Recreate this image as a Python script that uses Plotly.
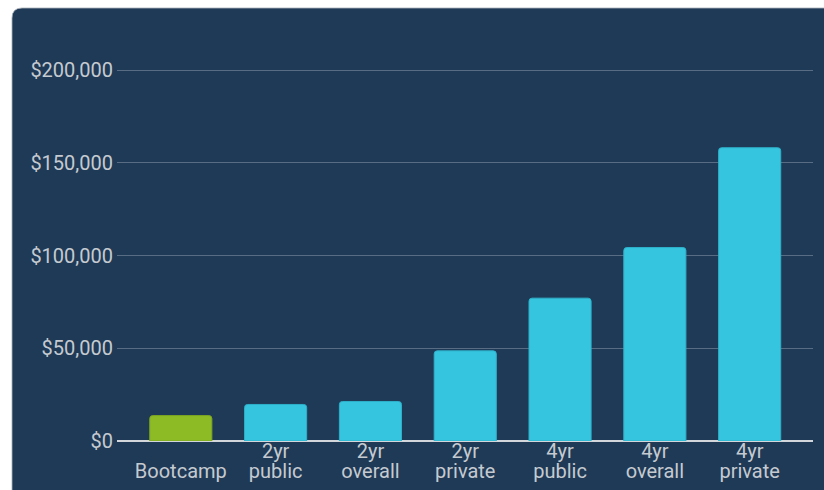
import plotly.graph_objects as go

categories = ["Bootcamp", "2yr public", "2yr overall", "2yr private", "4yr public", "4yr overall", "4yr private"]
tick_lines = [["", "Bootcamp"], ["2yr", "public"], ["2yr", "overall"], ["2yr", "private"],
              ["4yr", "public"], ["4yr", "overall"], ["4yr", "private"]]
costs = [13700, 19700, 21300, 48600, 77000, 104300, 158100]
y_ticks = [0, 50000, 100000, 150000, 200000]
y_tick_labels = ["$0", "$50,000", "$100,000", "$150,000", "$200,000"]

bar_colors = ["#8cbb26"] + ["#36c5de"] * 6
edge_colors = ["#7ea520"] + ["#2fb0ca"] * 6

span = '<span style="font-size:20px">{}</span>'
tick_text = ["<br>".join(span.format(t) if t else "" for t in lines) for lines in tick_lines]

fig = go.Figure(go.Bar(
    x=categories, y=costs,
    marker=dict(color=bar_colors, line=dict(color=edge_colors, width=1)),
))

L, R, T, B = 117, 11, 60, 49
W, H = 824, 490
pw, ph = W - L - R, H - T - B
y0pix = H - B
def px(x):
    return (x - L) / pw
def py(y):
    return (y0pix - y) / ph

x0, x1 = px(12), px(840)
ya, yb = py(500), py(8)
dx, dy = 10 / pw, 10 / ph
panel = (f"M {x0},{yb-dy} Q {x0},{yb} {x0+dx},{yb} L {x1},{yb} L {x1},{ya} "
         f"L {x0},{ya} Z")

fig.update_layout(
    width=W, height=H,
    margin=dict(l=L, r=R, t=T, b=B, pad=0, autoexpand=False),
    paper_bgcolor="white",
    plot_bgcolor="rgba(0,0,0,0)",
    font=dict(family="Roboto, Arial, sans-serif", color="#c5cad1"),
    showlegend=False,
    bargap=0.345,
    barcornerradius=3,
    shapes=[dict(type="path", xref="paper", yref="paper", path=panel,
                 fillcolor="#1f3a56", line=dict(color="rgba(170,178,186,0.8)", width=1),
                 layer="below")],
    xaxis=dict(
        tickvals=categories, ticktext=tick_text,
        tickfont=dict(size=15, color="#c5cad1"),
        range=[-0.673, 6.668],
        showgrid=False, showline=False, ticks="",
        ticklabelstandoff=1,
        automargin=False,
        fixedrange=True,
    ),
    yaxis=dict(
        range=[0, 200000 * ph / 371],
        tickvals=y_ticks,
        ticktext=y_tick_labels,
        tickfont=dict(size=20, color="#c5cad1"),
        showgrid=True, gridcolor="#586c83", gridwidth=1,
        zeroline=True, zerolinecolor="#d3d7dc", zerolinewidth=2,
        showline=False, ticks="",
        ticklabelstandoff=3,
        automargin=False,
    ),
)

fig.write_html("out.html")
